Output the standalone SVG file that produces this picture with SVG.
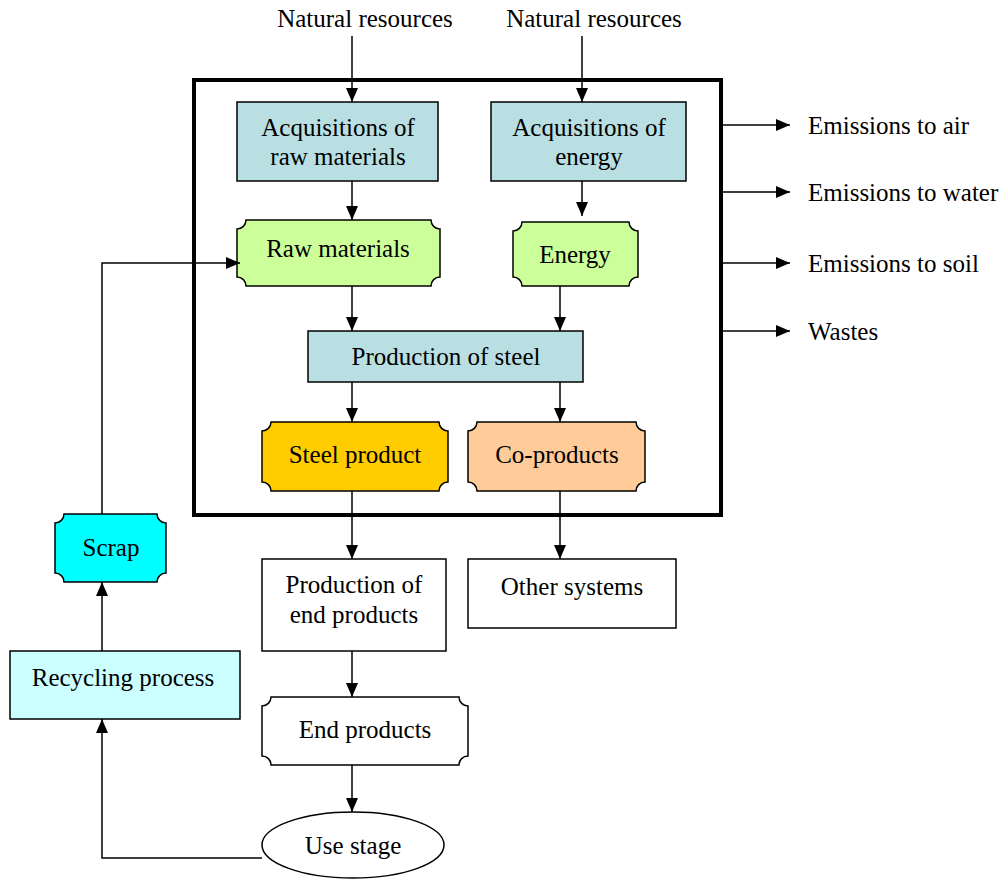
<svg xmlns="http://www.w3.org/2000/svg" width="1005" height="879" viewBox="0 0 1005 879">
<defs>
<marker id="ah" markerWidth="14" markerHeight="14" viewBox="0 0 14 14" refX="14" refY="7" orient="auto" markerUnits="userSpaceOnUse">
<path d="M0,1 L14,7 L0,13 Z" fill="#000"/>
</marker>
</defs>
<style>
text{font-family:"Liberation Serif","Times New Roman",serif;font-size:25px;fill:#000;text-anchor:middle}
.lt{text-anchor:start}
.box{stroke:#000;stroke-width:1.5}
.con{fill:none;stroke:#000;stroke-width:1.5}
.arr{marker-end:url(#ah)}
</style>
<rect width="1005" height="879" fill="#fff"/>
<g id="system-boundary"><rect x="194" y="80" width="527" height="435" fill="none" stroke="#000" stroke-width="4"/></g>
<g id="nr1"><text x="365" y="27">Natural resources</text></g>
<g id="nr2"><text x="594" y="27">Natural resources</text></g>
<g id="acq-raw"><rect class="box" x="237" y="102" width="201" height="79" fill="#b9dfe3"/><text x="338" y="136">Acquisitions of</text><text x="338" y="165">raw materials</text></g>
<g id="acq-energy"><rect class="box" x="491" y="102" width="195" height="79" fill="#b9dfe3"/><text x="589" y="136">Acquisitions of</text><text x="589" y="165">energy</text></g>
<g id="raw-materials"><path class="box" fill="#ccff99" d="M246,220 H431 A9,9 0 0 0 440,229 V277 A9,9 0 0 0 431,286 H246 A9,9 0 0 0 237,277 V229 A9,9 0 0 0 246,220 Z"/><text x="338" y="257">Raw materials</text></g>
<g id="energy"><path class="box" fill="#ccff99" d="M522,222 H629 A9,9 0 0 0 638,231 V277 A9,9 0 0 0 629,286 H522 A9,9 0 0 0 513,277 V231 A9,9 0 0 0 522,222 Z"/><text x="575" y="263">Energy</text></g>
<g id="production-steel"><rect class="box" x="308" y="331" width="275" height="51" fill="#b9dfe3"/><text x="446" y="365">Production of steel</text></g>
<g id="steel-product"><path class="box" fill="#ffcc00" d="M271,422 H439 A9,9 0 0 0 448,431 V482 A9,9 0 0 0 439,491 H271 A9,9 0 0 0 262,482 V431 A9,9 0 0 0 271,422 Z"/><text x="355" y="463">Steel product</text></g>
<g id="co-products"><path class="box" fill="#ffcc99" d="M477,422 H636 A9,9 0 0 0 645,431 V482 A9,9 0 0 0 636,491 H477 A9,9 0 0 0 468,482 V431 A9,9 0 0 0 477,422 Z"/><text x="557" y="463">Co-products</text></g>
<g id="production-end"><rect class="box" x="262" y="559" width="184" height="92" fill="#fff"/><text x="354" y="593">Production of</text><text x="354" y="623">end products</text></g>
<g id="other-systems"><rect class="box" x="468" y="559" width="208" height="69" fill="#fff"/><text x="572" y="595">Other systems</text></g>
<g id="end-products"><path class="box" fill="#fff" d="M271,697 H459 A9,9 0 0 0 468,706 V756 A9,9 0 0 0 459,765 H271 A9,9 0 0 0 262,756 V706 A9,9 0 0 0 271,697 Z"/><text x="365" y="738">End products</text></g>
<g id="use-stage"><ellipse class="box" cx="353" cy="845" rx="91" ry="33" fill="#fff"/><text x="353" y="854">Use stage</text></g>
<g id="recycling"><rect class="box" x="10" y="651" width="230" height="68" fill="#ccffff"/><text x="123" y="686">Recycling process</text></g>
<g id="scrap"><path class="box" fill="#00ffff" d="M64,514 H157 A9,9 0 0 0 166,523 V573 A9,9 0 0 0 157,582 H64 A9,9 0 0 0 55,573 V523 A9,9 0 0 0 64,514 Z"/><text x="111" y="556">Scrap</text></g>
<g id="emissions-air"><text class="lt" x="808" y="134">Emissions to air</text></g>
<g id="emissions-water"><text class="lt" x="808" y="201">Emissions to water</text></g>
<g id="emissions-soil"><text class="lt" x="808" y="272">Emissions to soil</text></g>
<g id="wastes"><text class="lt" x="808" y="340">Wastes</text></g>
<g id="connectors">
<path class="con arr" d="M352,36 V102"/>
<path class="con arr" d="M582,36 V102"/>
<path class="con arr" d="M352,181 V220"/>
<path class="con arr" d="M582,181 V216"/>
<path class="con arr" d="M352,286 V331"/>
<path class="con arr" d="M560,286 V331"/>
<path class="con arr" d="M352,382 V422"/>
<path class="con arr" d="M560,382 V422"/>
<path class="con arr" d="M352,491 V559"/>
<path class="con arr" d="M560,491 V559"/>
<path class="con arr" d="M352,651 V697"/>
<path class="con arr" d="M352,765 V812"/>
<path class="con arr" d="M262,858 H102 V719"/>
<path class="con arr" d="M102,651 V582"/>
<path class="con arr" d="M102,514 V263 H240"/>
<path class="con arr" d="M722,125 H790"/>
<path class="con arr" d="M722,192 H790"/>
<path class="con arr" d="M722,263 H790"/>
<path class="con arr" d="M722,331 H790"/>
</g>
</svg>
